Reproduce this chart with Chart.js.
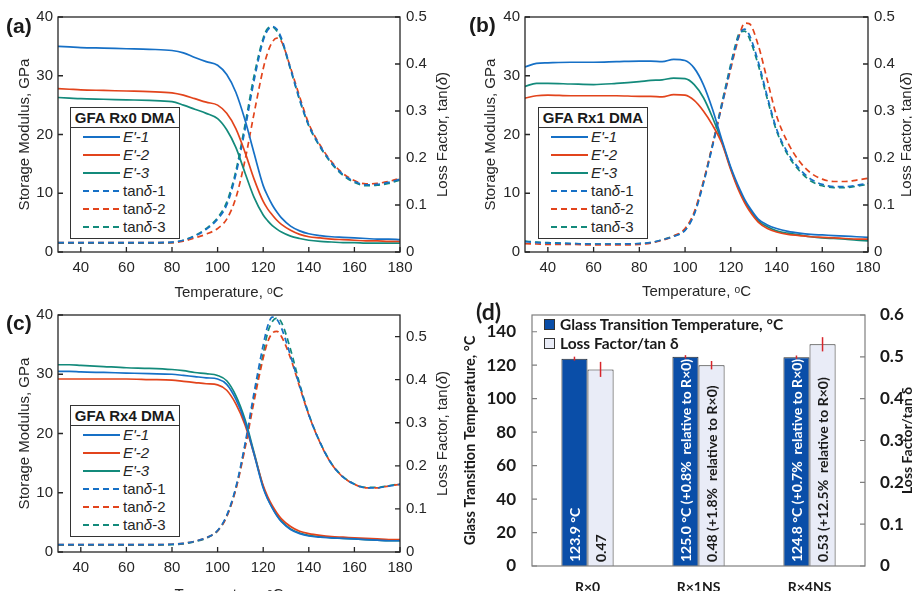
<!DOCTYPE html>
<html><head><meta charset="utf-8">
<script src="https://cdn.jsdelivr.net/npm/chart.js@4.4.1/dist/chart.umd.min.js"></script>
<style>
html,body{margin:0;padding:0;background:#fff;width:912px;height:591px;overflow:hidden;}
#wrap{position:relative;width:912px;height:591px;overflow:hidden;}
canvas{position:absolute;}
.plab{position:absolute;font:bold 21px "Liberation Sans",Arial,sans-serif;color:#1a1a1a;line-height:24px;white-space:nowrap;}
.leg{position:absolute;box-sizing:border-box;width:110px;height:132px;border:1.5px solid #333;background:#fff;font:15px "Liberation Sans",Arial,sans-serif;color:#262626;}
.leg .lt{height:19px;line-height:19px;border-bottom:1.5px solid #333;text-align:center;font-weight:bold;color:#1a1a1a;white-space:nowrap;}
.leg .row{position:relative;height:18px;}
.leg svg{position:absolute;left:12px;top:7px;}
.leg .tx{position:absolute;left:52px;top:0;line-height:18px;white-space:nowrap;}
.dleg{position:absolute;left:544px;top:315px;font:bold 15.5px Lato,sans-serif;color:#1a1a1a;}
.dleg div{height:19px;line-height:19px;white-space:nowrap;}
.dleg span{display:inline-block;width:9px;height:9px;border:1px solid #333;margin-right:5px;vertical-align:0px;}
</style></head>
<body><div id="wrap">
<canvas id="ca" width="456" height="302" style="left:0;top:0"></canvas>
<canvas id="cb" width="456" height="301" style="left:456px;top:0"></canvas>
<canvas id="cc" width="456" height="304" style="left:0;top:300px"></canvas>
<canvas id="cd" width="456" height="291" style="left:456px;top:300px"></canvas>
</div>
<script>
// ---------- data ----------
const temps = [30,35,40,50,60,70,80,85,90,95,100,104,108,112,116,120,122,124,126,128,132,136,140,145,150,155,160,165,170,175,180];
const seriesNames = ["E'-1","E'-2","E'-3","tanδ-1","tanδ-2","tanδ-3"];
const seriesColors = ['#1670c6','#e2441c','#138a7b'];
const panelTitles = ['GFA Rx0 DMA','GFA Rx1 DMA','GFA Rx4 DMA'];

// Panel (a) Rx0
const aE1 = [35.0,34.9,34.8,34.7,34.6,34.5,34.3,33.9,33.1,32.4,31.8,30.2,27.2,22.5,16.8,11.3,9.5,8.0,6.8,5.8,4.4,3.6,3.1,2.8,2.6,2.5,2.4,2.3,2.2,2.2,2.1];
const aE2 = [27.8,27.7,27.6,27.5,27.4,27.3,27.1,26.7,26.1,25.5,25.0,23.6,21.0,17.0,12.4,8.6,7.3,6.3,5.4,4.7,3.7,3.0,2.6,2.4,2.2,2.1,2.0,1.9,1.9,1.8,1.8];
const aE3 = [26.3,26.2,26.1,26.0,25.9,25.8,25.6,25.0,24.3,23.6,22.7,20.8,17.8,13.5,9.3,6.3,5.3,4.5,3.9,3.4,2.7,2.3,2.0,1.8,1.7,1.6,1.6,1.5,1.5,1.5,1.5];
const aT1 = [0.020,0.020,0.020,0.020,0.020,0.020,0.021,0.025,0.034,0.048,0.070,0.100,0.165,0.260,0.365,0.450,0.472,0.480,0.474,0.455,0.390,0.325,0.270,0.225,0.190,0.165,0.150,0.143,0.144,0.148,0.155];
const aT2 = [0.020,0.020,0.020,0.020,0.020,0.020,0.020,0.023,0.030,0.038,0.050,0.070,0.115,0.195,0.295,0.390,0.425,0.447,0.455,0.448,0.392,0.330,0.273,0.227,0.192,0.167,0.152,0.145,0.146,0.150,0.157];
const aT3 = [0.019,0.019,0.019,0.019,0.019,0.019,0.020,0.025,0.035,0.050,0.073,0.106,0.172,0.270,0.375,0.455,0.476,0.479,0.470,0.451,0.388,0.323,0.268,0.223,0.188,0.163,0.148,0.141,0.142,0.146,0.153];

// Panel (b) Rx1
const bE1 = [31.5,32.1,32.2,32.3,32.3,32.4,32.5,32.5,32.4,32.8,32.6,31.3,28.5,24.3,19.2,14.4,12.4,10.6,9.0,7.7,5.6,4.6,4.0,3.5,3.2,3.0,2.9,2.8,2.7,2.6,2.5];
const bE2 = [26.2,26.6,26.7,26.6,26.6,26.6,26.5,26.5,26.4,26.8,26.7,25.8,24.0,21.6,18.6,14.0,11.9,10.0,8.4,7.1,5.1,4.0,3.4,3.0,2.8,2.6,2.5,2.4,2.3,2.2,2.2];
const bE3 = [28.2,28.7,28.7,28.6,28.5,28.7,29.0,29.2,29.3,29.6,29.5,28.5,26.3,22.9,18.9,14.2,12.1,10.3,8.7,7.4,5.3,4.3,3.6,3.2,2.9,2.6,2.4,2.3,2.2,2.0,1.9];
const bT1 = [0.022,0.020,0.019,0.018,0.017,0.017,0.018,0.020,0.026,0.033,0.046,0.080,0.145,0.225,0.310,0.395,0.435,0.465,0.474,0.463,0.405,0.330,0.262,0.210,0.177,0.155,0.144,0.139,0.139,0.142,0.146];
const bT2 = [0.018,0.017,0.016,0.016,0.015,0.015,0.016,0.019,0.025,0.034,0.050,0.085,0.150,0.228,0.310,0.390,0.430,0.465,0.487,0.486,0.440,0.365,0.290,0.232,0.193,0.168,0.155,0.150,0.150,0.153,0.157];
const bT3 = [0.023,0.021,0.020,0.018,0.017,0.017,0.018,0.020,0.026,0.034,0.047,0.082,0.148,0.228,0.315,0.400,0.440,0.468,0.470,0.456,0.398,0.325,0.258,0.206,0.173,0.151,0.141,0.137,0.137,0.140,0.144];

// Panel (c) Rx4
const cE1 = [30.5,30.5,30.4,30.3,30.2,30.1,30.0,29.8,29.6,29.4,29.2,28.3,25.8,22.0,16.5,10.8,8.9,7.4,6.1,5.1,3.8,3.1,2.7,2.5,2.4,2.3,2.2,2.1,2.0,1.9,1.9];
const cE2 = [29.2,29.2,29.2,29.2,29.2,29.1,29.0,28.8,28.6,28.4,28.2,27.3,25.0,21.5,16.5,11.2,9.3,7.8,6.6,5.6,4.3,3.5,3.1,2.8,2.6,2.5,2.4,2.3,2.2,2.1,2.1];
const cE3 = [31.6,31.6,31.5,31.3,31.1,31.0,30.8,30.6,30.3,30.1,29.8,28.9,26.4,22.4,16.8,11.0,9.0,7.5,6.2,5.2,3.9,3.2,2.8,2.6,2.4,2.3,2.2,2.1,2.0,1.9,1.9];
const cT1 = [0.017,0.017,0.017,0.017,0.017,0.017,0.018,0.020,0.025,0.033,0.050,0.085,0.150,0.250,0.370,0.480,0.525,0.545,0.540,0.520,0.455,0.385,0.318,0.253,0.204,0.174,0.157,0.149,0.149,0.153,0.157];
const cT2 = [0.017,0.017,0.017,0.017,0.017,0.017,0.018,0.020,0.025,0.033,0.049,0.082,0.145,0.240,0.350,0.450,0.488,0.508,0.512,0.500,0.450,0.383,0.318,0.253,0.204,0.174,0.157,0.149,0.149,0.153,0.157];
const cT3 = [0.016,0.016,0.016,0.016,0.016,0.016,0.017,0.019,0.024,0.032,0.049,0.083,0.148,0.245,0.360,0.460,0.510,0.535,0.543,0.533,0.470,0.390,0.320,0.254,0.205,0.175,0.158,0.150,0.150,0.154,0.158];

// Panel (d)
const dCats = ['R×0','R×1NS','R×4NS'];
const dTg = [123.9,125.0,124.8];
const dTgErr = [1.2,1.0,1.0];
const dTan = [0.47,0.48,0.53];
const dTanErr = [0.018,0.010,0.017];
const dTgText = ['123.9 °C','125.0 °C (+0.8%  relative to R×0)','124.8 °C (+0.7%  relative to R×0)'];
const dTanText = ['0.47','0.48 (+1.8%  relative to R×0)','0.53 (+12.5%  relative to R×0)'];
const dLegend = ['Glass Transition Temperature, °C','Loss Factor/tan δ'];
const dColors = ['#0a4ea8','#e9ecf7'];

// ---------- helpers ----------
const F = '"Liberation Sans", Arial, sans-serif';
const TXT = '#262626';

const framePlugin = {
  id: 'frame',
  afterDatasetsDraw(chart, args, opts) {
    const {ctx, chartArea: ca, scales} = chart;
    ctx.save();
    ctx.strokeStyle = '#262626';
    ctx.lineWidth = 1.3;
    ctx.strokeRect(ca.left, ca.top, ca.right - ca.left, ca.bottom - ca.top);
    const L = 5;
    ctx.beginPath();
    scales.x.ticks.forEach(t => { const p = scales.x.getPixelForValue(t.value); ctx.moveTo(p, ca.bottom); ctx.lineTo(p, ca.bottom - L); });
    scales.y.ticks.forEach(t => { const p = scales.y.getPixelForValue(t.value); ctx.moveTo(ca.left, p); ctx.lineTo(ca.left + L, p); });
    scales.y1.ticks.forEach(t => { const p = scales.y1.getPixelForValue(t.value); ctx.moveTo(ca.right, p); ctx.lineTo(ca.right - L, p); });
    ctx.stroke();
    // right axis title, reading bottom-to-top
    const parts = [['Loss Factor, tan(', ''], ['δ', 'italic '], [')', '']];
    ctx.fillStyle = TXT;
    let total = 0;
    parts.forEach(p => { ctx.font = p[1] + '15px ' + F; total += ctx.measureText(p[0]).width; });
    ctx.translate(ca.right + opts.titleX, (ca.top + ca.bottom) / 2);
    ctx.rotate(-Math.PI / 2);
    ctx.textBaseline = 'middle';
    ctx.textAlign = 'left';
    let x = -total / 2;
    parts.forEach(p => { ctx.font = p[1] + '15px ' + F; ctx.fillText(p[0], x, 0); x += ctx.measureText(p[0]).width; });
    ctx.restore();
  }
};

function ds(vals, color, dashed, axis) {
  return {
    data: temps.map((t, i) => ({x: t, y: vals[i]})),
    borderColor: color, borderWidth: 1.7,
    borderDash: dashed ? [6, 4] : [],
    pointRadius: 0, yAxisID: axis, fill: false,
    cubicInterpolationMode: 'monotone'
  };
}

const noGrid = {display: false, drawTicks: false};

function lineChart(id, E, Tn, o) {
  const sets = [];
  E.forEach((v, i) => sets.push(ds(v, seriesColors[i], false, 'y')));
  Tn.forEach((v, i) => sets.push(ds(v, seriesColors[i], true, 'y1')));
  new Chart(document.getElementById(id), {
    type: 'line',
    data: {datasets: sets},
    options: {
      responsive: false, animation: false, events: [],
      layout: {padding: {top: o.top, left: 0, right: 0, bottom: 0}},
      plugins: {legend: {display: false}, tooltip: {enabled: false}, frame: {titleX: o.rtx}},
      scales: {
        x: {
          type: 'linear', min: 30, max: 180,
          afterFit: s => { s.height = o.xh; },
          grid: noGrid, border: {display: false},
          ticks: {stepSize: 20, includeBounds: false, maxRotation: 0, autoSkip: false, padding: 7, color: TXT, font: {family: F, size: 15}},
          title: {display: true, text: 'Temperature, ᵒC', color: TXT, font: {family: F, size: 15}, padding: {top: 0, bottom: 0}}
        },
        y: {
          position: 'left', min: 0, max: 40,
          afterFit: s => { s.width = o.lw; },
          grid: noGrid, border: {display: false},
          ticks: {stepSize: 10, padding: 5, color: TXT, font: {family: F, size: 15}},
          title: {display: true, text: 'Storage Modulus, GPa', color: TXT, font: {family: F, size: 15}, padding: {top: o.ltp, bottom: 0}}
        },
        y1: {
          position: 'right', min: 0, max: o.tmax,
          afterFit: s => { s.width = o.rw; },
          grid: noGrid, border: {display: false},
          ticks: {stepSize: 0.1, includeBounds: false, padding: 6, color: TXT, font: {family: F, size: 15},
                  callback: v => Math.abs(v) < 1e-9 ? '0' : v.toFixed(1)}
        }
      }
    },
    plugins: [framePlugin]
  });
}

lineChart('ca', [aE1, aE2, aE3], [aT1, aT2, aT3], {top: 17, xh: 50, lw: 58, rw: 56, ltp: 16, tmax: 0.5, rtx: 43});
lineChart('cb', [bE1, bE2, bE3], [bT1, bT2, bT3], {top: 17, xh: 49, lw: 69, rw: 44, ltp: 26, tmax: 0.5, rtx: 39});
lineChart('cc', [cE1, cE2, cE3], [cT1, cT2, cT3], {top: 15, xh: 52, lw: 58, rw: 56, ltp: 16, tmax: 0.55, rtx: 43});

// ---------- panel (d) ----------
const LF = 'Lato, "Open Sans", sans-serif';
const dPlugin = {
  id: 'dExtras',
  afterDatasetsDraw(chart) {
    const ctx = chart.ctx, ca = chart.chartArea;
    const y = chart.scales.y, y1 = chart.scales.y1;
    ctx.save();
    ctx.strokeStyle = '#7f7f7f'; ctx.lineWidth = 1.2;
    ctx.strokeRect(ca.left, ca.top, ca.right - ca.left, ca.bottom - ca.top);
    ctx.beginPath();
    y.ticks.forEach(t => { const p = y.getPixelForValue(t.value); ctx.moveTo(ca.left, p); ctx.lineTo(ca.left + 5, p); });
    y1.ticks.forEach(t => { const p = y1.getPixelForValue(t.value); ctx.moveTo(ca.right, p); ctx.lineTo(ca.right - 5, p); });
    ctx.stroke();
    // error bars
    [[0, dTg, dTgErr, y], [1, dTan, dTanErr, y1]].forEach(([di, val, err, sc]) => {
      chart.getDatasetMeta(di).data.forEach((el, i) => {
        ctx.strokeStyle = '#d8262c'; ctx.lineWidth = 1.5;
        ctx.beginPath();
        ctx.moveTo(el.x, sc.getPixelForValue(val[i] + err[i]));
        ctx.lineTo(el.x, sc.getPixelForValue(val[i] - err[i]));
        ctx.stroke();
      });
    });
    // in-bar rotated labels
    [[0, dTgText, '#ffffff'], [1, dTanText, '#1a1a1a']].forEach(([di, texts, col]) => {
      chart.getDatasetMeta(di).data.forEach((el, i) => {
        ctx.save();
        ctx.translate(el.x + 1, el.base - 4);
        ctx.rotate(-Math.PI / 2);
        ctx.font = 'bold 14px ' + LF;
        ctx.fillStyle = col;
        ctx.textAlign = 'left'; ctx.textBaseline = 'middle';
        ctx.fillText(texts[i], 0, 0);
        ctx.restore();
      });
    });
    // right axis title
    ctx.save();
    ctx.translate(ca.right + 42, (ca.top + ca.bottom) / 2);
    ctx.rotate(-Math.PI / 2);
    ctx.font = 'bold 14px ' + LF;
    ctx.fillStyle = '#1a1a1a';
    ctx.textAlign = 'center'; ctx.textBaseline = 'middle';
    ctx.fillText('Loss Factor/tan δ', 0, 0);
    ctx.restore();
    ctx.restore();
  }
};

new Chart(document.getElementById('cd'), {
  type: 'bar',
  data: {
    labels: dCats,
    datasets: [
      {label: dLegend[0], data: dTg, yAxisID: 'y', backgroundColor: dColors[0], borderColor: '#2a2a2a', borderWidth: 1, categoryPercentage: 0.47, barPercentage: 1},
      {label: dLegend[1], data: dTan, yAxisID: 'y1', backgroundColor: dColors[1], borderColor: '#2a2a2a', borderWidth: 1, categoryPercentage: 0.47, barPercentage: 1}
    ]
  },
  options: {
    responsive: false, animation: false, events: [],
    layout: {padding: {top: 15, left: 0, right: 0, bottom: 0}},
    plugins: {legend: {display: false}, tooltip: {enabled: false}},
    scales: {
      x: {
        afterFit: s => { s.height = 25; },
        grid: noGrid, border: {display: false},
        ticks: {padding: 13, color: '#1a1a1a', font: {family: LF, size: 14, weight: 'bold'}}
      },
      y: {
        position: 'left', min: 0, max: 150,
        afterFit: s => { s.width = 76; },
        grid: {display: false, drawTicks: true, tickLength: 12}, border: {display: false},
        ticks: {stepSize: 20, includeBounds: false, padding: 4, color: '#1a1a1a', font: {family: LF, size: 17, weight: 'bold'}},
        title: {display: true, text: 'Glass Transition Temperature, °C', color: '#1a1a1a', font: {family: LF, size: 14.5, weight: 'bold'}, padding: {top: 6, bottom: 0}}
      },
      y1: {
        position: 'right', min: 0, max: 0.6,
        afterFit: s => { s.width = 47; },
        grid: {display: false, drawTicks: true, tickLength: 11}, border: {display: false},
        ticks: {stepSize: 0.1, padding: 4, color: '#1a1a1a', font: {family: LF, size: 17, weight: 'bold'},
                callback: v => Math.abs(v) < 1e-9 ? '0' : v.toFixed(1)}
      }
    }
  },
  plugins: [dPlugin]
});

// ---------- HTML overlays: legends & panel labels ----------
const wrap = document.getElementById('wrap');
function legendLabel(n) { return n.startsWith("E'") ? '<i>' + n + '</i>' : n.replace('δ', '<i>δ</i>'); }
function makeLegend(left, top, title) {
  const d = document.createElement('div');
  d.className = 'leg';
  d.style.left = left + 'px'; d.style.top = top + 'px';
  let h = '<div class="lt">' + title + '</div>';
  seriesNames.forEach((n, i) => {
    const col = seriesColors[i % 3];
    const dash = i >= 3 ? ' stroke-dasharray="6 4"' : '';
    h += '<div class="row"><svg width="37" height="4"><line x1="0" y1="2" x2="37" y2="2" stroke="' + col + '" stroke-width="2"' + dash + '/></svg><span class="tx">' + legendLabel(n) + '</span></div>';
  });
  d.innerHTML = h;
  wrap.appendChild(d);
}
makeLegend(70, 107, panelTitles[0]);
makeLegend(538, 107, panelTitles[1]);
makeLegend(70, 405, panelTitles[2]);

function label(txt, left, top, font) {
  const d = document.createElement('div');
  d.className = 'plab'; d.textContent = txt;
  d.style.left = left + 'px'; d.style.top = top + 'px';
  if (font) d.style.font = font;
  wrap.appendChild(d);
}
label('(a)', 6, 14);
label('(b)', 469, 13);
label('(c)', 6, 311);
label('(d)', 476, 297, 'bold 23px Lato, sans-serif');

const dl = document.createElement('div');
dl.className = 'dleg';
dl.innerHTML = dLegend.map((t, i) => '<div><span style="background:' + dColors[i] + '"></span>' + t + '</div>').join('');
wrap.appendChild(dl);
</script>
</body></html>
